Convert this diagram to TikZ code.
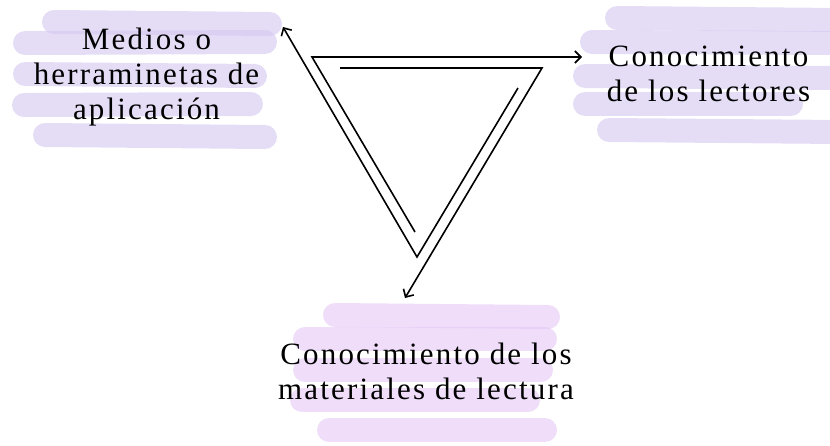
\documentclass[tikz,border=0pt]{standalone}
\usepackage{fontspec}
\usepackage{tikz}
\usetikzlibrary{arrows.meta}
\newfontfamily\labelfont[LetterSpace=7]{Liberation Serif}
\definecolor{lavender}{RGB}{212,198,240}
\definecolor{lilac}{RGB}{228,198,245}

\begin{document}
\begin{tikzpicture}[
	x=1pt, y=-1pt,
	brush/.style={line width=24pt, line cap=round, draw=lavender, opacity=0.6},
	lilacbrush/.style={brush, draw=lilac},
	lbl/.style={align=center, inner sep=0pt, font=\labelfont\fontsize{31}{35}\selectfont},
	bent/.style={-{Straight Barb[length=6pt,width=12pt]}, line width=1.6pt, line join=miter}
]
	\useasboundingbox (0,0) rectangle (830,445);

	% brush strokes behind the labels
	\foreach \xa/\ya/\xb/\yb in {54/22/270/24, 25/43/265/42, 25/74/255/76, 24/105/251/104, 45/135/265/137}
		\draw[brush] (\xa,\ya) -- (\xb,\yb);
	\foreach \xa/\ya/\xb/\yb in {617/18/840/20, 592/42/840/43, 585/76/840/78, 585/104/791/104, 609/130/840/132}
		\draw[brush] (\xa,\ya) -- (\xb,\yb);
	\foreach \xa/\ya/\xb/\yb in {335/315/548/317, 305/339/545/339, 305/370/541/370, 302/400/528/400, 329/430/545/430}
		\draw[lilacbrush] (\xa,\ya) -- (\xb,\yb);

	% labels
	\node[lbl] (medios) at (146.5,77) {Medios o\\herraminetas de\\aplicación};
	\node[lbl] (lectores) at (708.5,74) {Conocimiento\\de los lectores};
	\node[lbl] (materiales) at (426,371) {Conocimiento de los\\materiales de lectura};

	% corners of the triangle
	\coordinate (tl) at (312,57);
	\coordinate (tr) at (542,68);
	\coordinate (bo) at (417,257);
	% inner starts
	\coordinate (s1) at (340,68);
	\coordinate (s2) at (518,88);
	\coordinate (s3) at (415,232);
	% arrow tips
	\coordinate (t1) at (405,298);
	\coordinate (t2) at (283,27);
	\coordinate (t3) at (582,57);

	\draw[bent] (s1) -- (tr) -- (t1);
	\draw[bent] (s2) -- (bo) -- (t2);
	\draw[bent] (s3) -- (tl) -- (t3);
\end{tikzpicture}
\end{document}
